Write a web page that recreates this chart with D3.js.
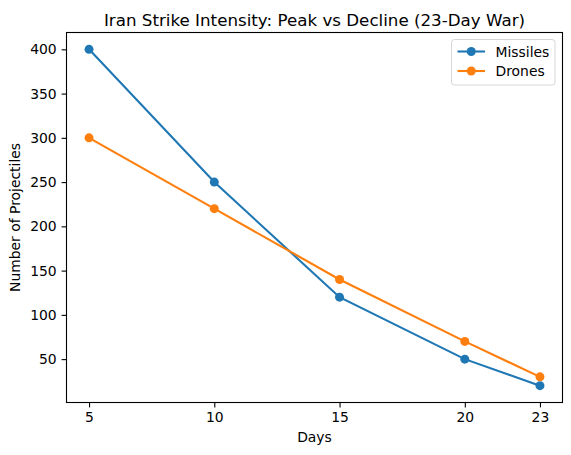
<!DOCTYPE html>
<html>
<head>
<meta charset="utf-8">
<script src="https://cdn.jsdelivr.net/npm/d3@7"></script>
<style>
  body { margin: 0; background: #fff; }
  svg { font-family: "DejaVu Sans", sans-serif; }
</style>
</head>
<body>
<svg width="571" height="455"></svg>
<script>
const days = [5, 10, 15, 20, 23];
const missiles = [400, 250, 120, 50, 20];
const drones = [300, 220, 140, 70, 30];
const yTicks = [50, 100, 150, 200, 250, 300, 350, 400];

const SERIES = [
  { name: 'Missiles', values: missiles, color: '#1f77b4' },
  { name: 'Drones', values: drones, color: '#ff7f0e' }
];

const M = { left: 66.5, right: 562.5, top: 32.5, bottom: 402.5 };

const svg = d3.select('svg');

const x = d3.scaleLinear().domain([4.1, 23.9]).range([M.left, M.right]);
const y = d3.scaleLinear().domain([1, 419]).range([M.bottom, M.top]);

// axes
const xAxis = svg.append('g')
  .attr('transform', `translate(0, ${M.bottom})`)
  .call(d3.axisBottom(x).tickValues(days).tickFormat(d3.format('d')).tickSize(4.9).tickPadding(4.9).tickSizeOuter(0));
const yAxis = svg.append('g')
  .attr('transform', `translate(${M.left}, 0)`)
  .call(d3.axisLeft(y).tickValues(yTicks).tickSize(4.9).tickPadding(4.9).tickSizeOuter(0));

[xAxis, yAxis].forEach(a => {
  a.select('.domain').remove();
  a.selectAll('line').attr('stroke', '#000').attr('stroke-width', 1.1);
  a.selectAll('text').attr('font-size', 13.9).attr('fill', '#000')
    .attr('font-family', '"DejaVu Sans", sans-serif');
});

// frame
svg.append('rect')
  .attr('x', M.left).attr('y', M.top)
  .attr('width', M.right - M.left).attr('height', M.bottom - M.top)
  .attr('fill', 'none').attr('stroke', '#000').attr('stroke-width', 1.1);

// lines
const line = d3.line().x((d, i) => x(days[i])).y(d => y(d));

SERIES.forEach(s => {
  svg.append('path')
    .datum(s.values)
    .attr('d', line)
    .attr('fill', 'none')
    .attr('stroke', s.color)
    .attr('stroke-width', 2.1);
  svg.selectAll(null)
    .data(s.values)
    .enter()
    .append('circle')
    .attr('cx', (d, i) => x(days[i]))
    .attr('cy', d => y(d))
    .attr('r', 4.5)
    .attr('fill', s.color);
});

// title and labels
svg.append('text')
  .attr('x', (M.left + M.right) / 2).attr('y', 25.5)
  .attr('text-anchor', 'middle').attr('font-size', 16.7)
  .text('Iran Strike Intensity: Peak vs Decline (23-Day War)');

svg.append('text')
  .attr('x', (M.left + M.right) / 2).attr('y', 442)
  .attr('text-anchor', 'middle').attr('font-size', 13.9)
  .text('Days');

svg.append('text')
  .attr('transform', `translate(20, ${(M.top + M.bottom) / 2}) rotate(-90)`)
  .attr('text-anchor', 'middle').attr('font-size', 13.9)
  .text('Number of Projectiles');

// legend
const lg = svg.append('g').attr('transform', 'translate(451.5, 39.5)');
lg.append('rect')
  .attr('width', 103.5).attr('height', 45.5)
  .attr('rx', 3)
  .attr('fill', '#fff').attr('fill-opacity', 0.8)
  .attr('stroke', '#d6d6d6').attr('stroke-width', 1);

SERIES.forEach((s, i) => {
  const cy = 12 + i * 19.5;
  lg.append('line')
    .attr('x1', 6).attr('x2', 33.5).attr('y1', cy).attr('y2', cy)
    .attr('stroke', s.color).attr('stroke-width', 2.1);
  lg.append('circle').attr('cx', 19.75).attr('cy', cy).attr('r', 4.5).attr('fill', s.color);
  lg.append('text')
    .attr('x', 44).attr('y', cy + 5)
    .attr('font-size', 13.9)
    .text(s.name);
});
</script>
</body>
</html>
